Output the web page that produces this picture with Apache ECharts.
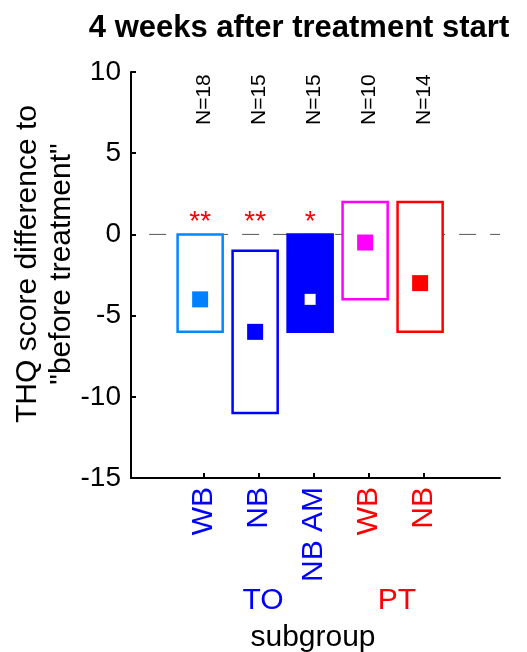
<!doctype html>
<html>
<head>
<meta charset="UTF-8">
<title>4 weeks after treatment start</title>
<script src="https://cdn.jsdelivr.net/npm/echarts@6/dist/echarts.min.js"></script>
<style>
  html, body { margin: 0; padding: 0; background: #fff; }
  #main { width: 527px; height: 652px; }
</style>
</head>
<body>
<div id="main"></div>
<script>
// subgroups, left to right
var categories = ['WB', 'NB', 'NB AM', 'WB', 'NB'];
var groupNames = ['TO', 'PT'];
var boxLow = [-6, -11, -6, -4, -6];
var boxHigh = [0, -1, 0, 2, 2];
var centerVals = [-4, -6, -4, -0.5, -3];
var nCounts = [18, 15, 15, 10, 14];
var stars = ['**', '**', '*', '', ''];

// styling
var labelColors = ['#0000ff', '#0000ff', '#0000ff', '#ff0000', '#ff0000'];
var boxColors = ['#0088ff', '#0000ff', '#0000ff', '#ff00ff', '#ff0000'];
var markColors = ['#0080ff', '#0000ff', '#ffffff', '#ff00ff', '#ff0000'];
var boxFilled = [false, false, true, false, false];
var FONT = 'Liberation Sans, Arial, sans-serif';
var X_MIN = -0.33, X_MAX = 6.38;
var SHIFT = -4; // boxes sit a little left of the ticks
var N_LEVEL = 8.3, STAR_LEVEL = 0.75;

var positions = categories.map(function (c, i) { return i + 1; });

var chart = echarts.init(document.getElementById('main'));

var option = {
    animation: false,
    grid: { left: 131, right: 27, top: 72, bottom: 174, outerBoundsMode: 'none' },
    xAxis: {
        type: 'value',
        min: X_MIN,
        max: X_MAX,
        splitLine: { show: false },
        axisLine: { show: true, onZero: false, lineStyle: { color: '#000', width: 2 } },
        axisTick: { show: true, inside: true, length: 5, customValues: positions, lineStyle: { color: '#000', width: 2 } },
        axisLabel: {
            customValues: positions,
            rotate: 90,
            margin: 9,
            fontSize: 30,
            fontFamily: FONT,
            formatter: function (v) { return categories[Math.round(v) - 1] || ''; },
            color: function (v) { return labelColors[Math.round(v) - 1] || '#000'; }
        }
    },
    yAxis: {
        type: 'value',
        min: -15,
        max: 10,
        interval: 5,
        splitLine: { show: false },
        axisLine: { show: true, onZero: false, lineStyle: { color: '#000', width: 2 } },
        axisTick: { show: true, inside: true, length: 5, lineStyle: { color: '#000', width: 2 } },
        axisLabel: { fontSize: 28, fontFamily: FONT, color: '#000', margin: 10 }
    },
    graphic: [
        { type: 'text', x: 299, y: 28, style: { text: '4 weeks after treatment start', font: 'bold 31px ' + FONT, fill: '#000', textAlign: 'center', textVerticalAlign: 'middle' } },
        { type: 'text', x: 45, y: 264, rotation: Math.PI / 2, style: { text: 'THQ score difference to\n"before treatment"', font: '30px ' + FONT, lineHeight: 34, fill: '#000', textAlign: 'center', textVerticalAlign: 'middle' } },
        { type: 'text', x: 263, y: 601, style: { text: groupNames[0], font: '30px ' + FONT, fill: '#0000ff', textAlign: 'center', textVerticalAlign: 'middle' } },
        { type: 'text', x: 397, y: 601, style: { text: groupNames[1], font: '30px ' + FONT, fill: '#ff0000', textAlign: 'center', textVerticalAlign: 'middle' } },
        { type: 'text', x: 313, y: 638, style: { text: 'subgroup', font: '30px ' + FONT, fill: '#000', textAlign: 'center', textVerticalAlign: 'middle' } }
    ],
    series: [
        {
            // dashed zero line, under the boxes
            type: 'custom',
            z: 1,
            silent: true,
            data: [[0, X_MAX]],
            renderItem: function (params, api) {
                var a = api.coord([api.value(0), 0]);
                var b = api.coord([api.value(1), 0]);
                return {
                    type: 'line',
                    shape: { x1: a[0], y1: a[1], x2: b[0], y2: b[1] },
                    style: { stroke: '#555', lineWidth: 1, lineDash: [17, 14] }
                };
            }
        },
        {
            name: 'range',
            type: 'custom',
            z: 2,
            data: positions.map(function (x, i) { return [x, boxLow[i], boxHigh[i], i]; }),
            renderItem: function (params, api) {
                var i = api.value(3);
                var top = api.coord([api.value(0), api.value(2)]);
                var bot = api.coord([api.value(0), api.value(1)]);
                var w = api.size([0.82, 0])[0];
                return {
                    type: 'rect',
                    shape: { x: top[0] - w / 2 + SHIFT, y: top[1], width: w, height: bot[1] - top[1] },
                    style: { fill: boxFilled[i] ? boxColors[i] : '#fff', stroke: boxColors[i], lineWidth: 2.5 }
                };
            }
        },
        {
            name: 'mean',
            type: 'scatter',
            z: 3,
            symbol: 'rect',
            symbolOffset: [SHIFT, 0],
            data: positions.map(function (x, i) {
                return { value: [x, centerVals[i]], symbolSize: boxFilled[i] ? 11 : 16, itemStyle: { color: markColors[i], opacity: 1 } };
            })
        },
        {
            name: 'stars',
            type: 'custom',
            z: 4,
            data: positions.map(function (x, i) { return [x, STAR_LEVEL, i]; }),
            renderItem: function (params, api) {
                var p = api.coord([api.value(0), api.value(1)]);
                return {
                    type: 'text',
                    x: p[0] + SHIFT, y: p[1],
                    style: { text: stars[api.value(2)], font: '28px ' + FONT, fill: '#ff0000', textAlign: 'center', textVerticalAlign: 'middle' }
                };
            }
        },
        {
            name: 'counts',
            type: 'custom',
            z: 4,
            data: positions.map(function (x, i) { return [x, N_LEVEL, i]; }),
            renderItem: function (params, api) {
                var p = api.coord([api.value(0), api.value(1)]);
                return {
                    type: 'text',
                    x: p[0], y: p[1],
                    rotation: Math.PI / 2,
                    style: { text: 'N=' + nCounts[api.value(2)], font: '21px ' + FONT, fill: '#000', textAlign: 'center', textVerticalAlign: 'middle' }
                };
            }
        }
    ]
};

chart.setOption(option);
</script>
</body>
</html>
